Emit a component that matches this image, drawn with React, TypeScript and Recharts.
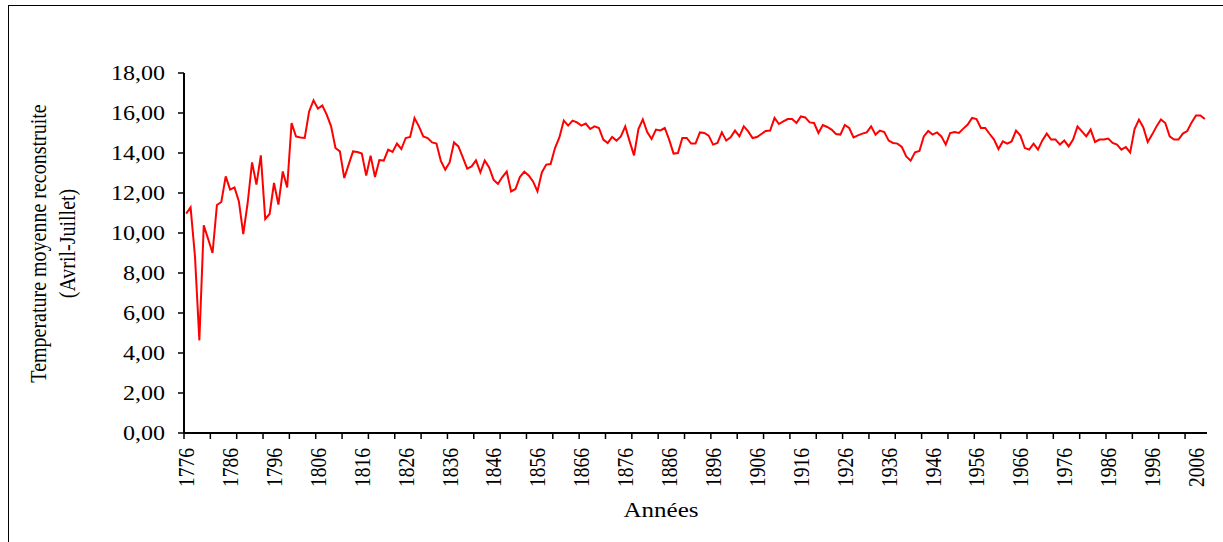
import React from 'react';
import { LineChart, Line, XAxis, YAxis } from 'recharts';

const START_YEAR = 1776;

const temps1776_1825 = [
  10.97, 11.28, 8.83, 4.63, 10.38, 9.7, 9.0, 11.4, 11.55, 12.83,
  12.17, 12.28, 11.58, 9.95, 11.5, 13.53, 12.42, 13.88, 10.7, 10.95,
  12.5, 11.42, 13.08, 12.28, 15.5, 14.83, 14.78, 14.75, 16.08, 16.63,
  16.22, 16.37, 15.92, 15.33, 14.25, 14.08, 12.75, 13.42, 14.08, 14.05,
  13.97, 12.87, 13.87, 12.8, 13.65, 13.62, 14.17, 14.05, 14.47, 14.2,
];
const temps1826_1875 = [
  14.75, 14.8, 15.75, 15.33, 14.83, 14.75, 14.53, 14.47, 13.6, 13.17,
  13.53, 14.53, 14.33, 13.78, 13.22, 13.33, 13.63, 13.03, 13.63, 13.28,
  12.67, 12.45, 12.8, 13.07, 12.08, 12.2, 12.8, 13.07, 12.88, 12.58,
  12.08, 13.03, 13.42, 13.45, 14.25, 14.78, 15.62, 15.37, 15.62, 15.53,
  15.37, 15.47, 15.2, 15.33, 15.25, 14.67, 14.5, 14.8, 14.62, 14.83,
];
const temps1876_1925 = [
  15.33, 14.58, 13.88, 15.2, 15.68, 15.05, 14.7, 15.17, 15.13, 15.25,
  14.67, 13.97, 14.0, 14.75, 14.75, 14.47, 14.47, 15.03, 15.0, 14.87,
  14.42, 14.5, 15.03, 14.62, 14.78, 15.12, 14.83, 15.33, 15.08, 14.75,
  14.8, 14.95, 15.1, 15.12, 15.75, 15.45, 15.58, 15.7, 15.7, 15.5,
  15.83, 15.78, 15.53, 15.5, 15.0, 15.4, 15.3, 15.17, 14.95, 14.92,
];
const temps1926_1975 = [
  15.4, 15.25, 14.78, 14.88, 14.97, 15.03, 15.33, 14.92, 15.12, 15.05,
  14.62, 14.5, 14.47, 14.3, 13.83, 13.62, 14.03, 14.1, 14.83, 15.1,
  14.92, 15.03, 14.83, 14.42, 15.0, 15.05, 15.0, 15.22, 15.42, 15.75,
  15.7, 15.25, 15.25, 14.95, 14.67, 14.2, 14.58, 14.47, 14.58, 15.12,
  14.87, 14.25, 14.17, 14.47, 14.17, 14.63, 14.97, 14.67, 14.67, 14.42,
];
const temps1976_2008 = [
  14.62, 14.33, 14.67, 15.33, 15.08, 14.83, 15.17, 14.55, 14.67, 14.67,
  14.72, 14.5, 14.42, 14.17, 14.3, 14.03, 15.2, 15.67, 15.28, 14.55,
  14.92, 15.33, 15.68, 15.5, 14.83, 14.67, 14.67, 14.97, 15.1, 15.53,
  15.88, 15.88, 15.7,
];

const temperatures = [
  ...temps1776_1825,
  ...temps1826_1875,
  ...temps1876_1925,
  ...temps1926_1975,
  ...temps1976_2008,
];

const years = temperatures.map((_, i) => START_YEAR + i);

const yearLabels = [
  1776, 1786, 1796, 1806, 1816, 1826, 1836, 1846, 1856, 1866, 1876, 1886,
  1896, 1906, 1916, 1926, 1936, 1946, 1956, 1966, 1976, 1986, 1996, 2006,
];

const yTicks = [0, 2, 4, 6, 8, 10, 12, 14, 16, 18];

const data = years.map((year, i) => ({ year, temp: temperatures[i] }));

// tick marks sit on category boundaries, every 6 categories
const boundaryTicks: number[] = [];
for (let b = START_YEAR - 0.5; b <= years[years.length - 1] + 0.5; b += 6) {
  boundaryTicks.push(b);
}
const allXTicks = [...boundaryTicks, ...yearLabels].sort((a, b) => a - b);

const FONT = '"Liberation Serif", "Times New Roman", serif';
const STRETCH = 1.2;

const XTick = (props: any) => {
  const { x, y, payload } = props;
  const v = payload.value;
  if (!Number.isInteger(v)) {
    return <line x1={x} y1={y - 6} x2={x} y2={y} stroke="#000" strokeWidth={1.5} />;
  }
  const ty = y + 9;
  return (
    <text
      x={x}
      y={ty}
      dy="0.34em"
      textAnchor="end"
      transform={`translate(${x}, ${ty}) scale(${STRETCH}, 1) rotate(-90) translate(${-x}, ${-ty})`}
      fontFamily={FONT}
      fontSize={19.5}
      fill="#000"
    >
      {v}
    </text>
  );
};

const YTick = (props: any) => {
  const { x, y, payload } = props;
  const label = Number(payload.value).toFixed(2).replace('.', ',');
  return (
    <text
      x={x}
      y={y}
      dy="0.35em"
      textAnchor="end"
      transform={`translate(${x}, ${y}) scale(${STRETCH}, 1) translate(${-x}, ${-y})`}
      fontFamily={FONT}
      fontSize={20}
      fill="#000"
    >
      {label}
    </text>
  );
};

const yTitleLine = (text: string, cx: number, cy: number) => (
  <text
    x={cx}
    y={cy}
    textAnchor="middle"
    dominantBaseline="central"
    transform={`translate(${cx}, ${cy}) scale(${STRETCH}, 1) rotate(-90) translate(${-cx}, ${-cy})`}
    fontFamily={FONT}
    fontSize={20}
    fill="#000"
  >
    {text}
  </text>
);

const YTitle = () => (
  <g>
    {yTitleLine('Temperature moyenne reconstruite', 38, 243.5)}
    {yTitleLine('(Avril-Juillet)', 67, 243.5)}
  </g>
);

const XTitle = () => (
  <text
    x={661}
    y={517}
    textAnchor="middle"
    transform={`translate(661, 517) scale(1.25, 1) translate(-661, -517)`}
    fontFamily={FONT}
    fontSize={20}
    fill="#000"
  >
    Années
  </text>
);

export default function App() {
  return (
    <div
      style={{
        position: 'fixed',
        left: 0,
        top: 0,
        width: 1223,
        height: 542,
        background: '#fff',
        overflow: 'hidden',
      }}
    >
      <div
        style={{
          position: 'absolute',
          left: 8,
          top: 5,
          width: 1260,
          height: 600,
          borderLeft: '1px solid #000',
          borderTop: '1px solid #000',
          boxSizing: 'border-box',
        }}
      />
      <div style={{ position: 'absolute', left: 0, top: 0 }}>
        <LineChart
          width={1223}
          height={542}
          data={data}
          margin={{ top: 73, right: 16, bottom: 9, left: 84 }}
        >
          <XAxis
            dataKey="year"
            type="number"
            domain={[START_YEAR - 0.5, years[years.length - 1] + 0.5]}
            ticks={allXTicks}
            interval={0}
            allowDecimals
            height={100}
            tickSize={6}
            tickMargin={0}
            tickLine={false}
            axisLine={{ stroke: '#000', strokeWidth: 2 }}
            tick={<XTick />}
            label={XTitle}
          />
          <YAxis
            type="number"
            domain={[0, 18]}
            ticks={yTicks}
            interval={0}
            width={100}
            tickSize={6}
            tickMargin={13}
            tickLine={{ stroke: '#000', strokeWidth: 1.5 }}
            axisLine={{ stroke: '#000', strokeWidth: 2 }}
            tick={<YTick />}
            label={YTitle}
          />
          <Line
            type="linear"
            dataKey="temp"
            stroke="#FF0000"
            strokeWidth={2}
            dot={false}
            activeDot={false}
            isAnimationActive={false}
          />
        </LineChart>
      </div>
    </div>
  );
}
